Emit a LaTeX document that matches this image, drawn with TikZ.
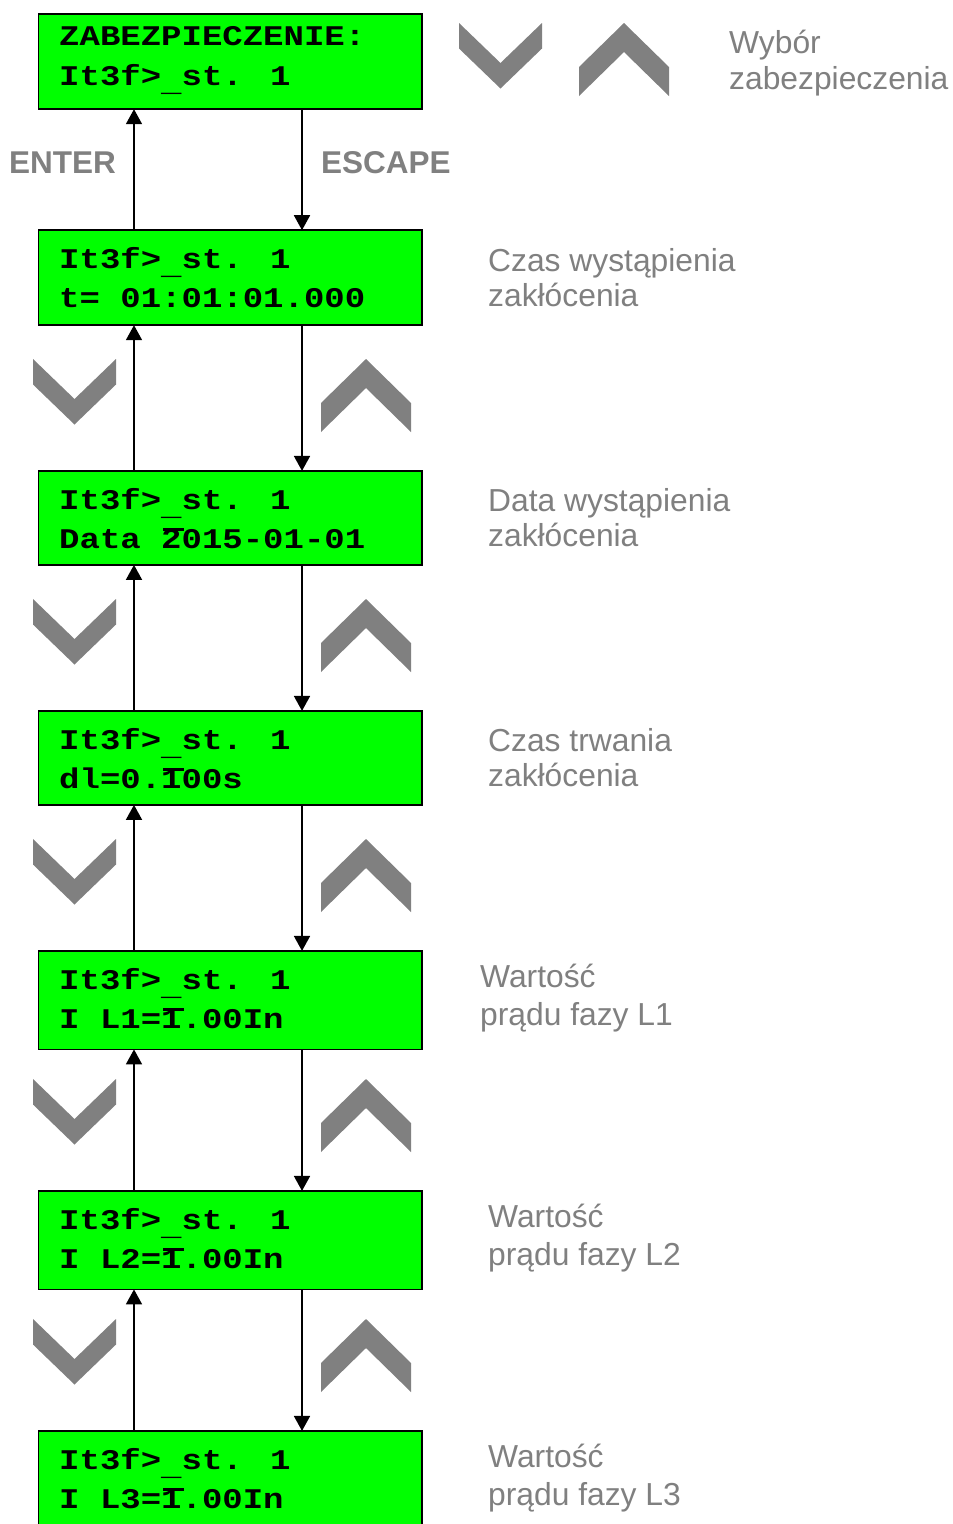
\documentclass[tikz,border=0pt]{standalone}
\usepackage{fontspec}
\setmainfont{Liberation Sans}
\newfontfamily\lcdfont{Liberation Mono}[FakeStretch=1.193]
\usetikzlibrary{arrows.meta}
\definecolor{lcdgreen}{RGB}{0,255,0}
\definecolor{keygray}{RGB}{128,128,128}
\newcommand\lowbar{\raisebox{-6pt}{\_}}
\begin{document}
\begin{tikzpicture}[x=1pt,y=-1pt,
  lcd/.style={draw=black, line width=1.8pt, fill=lcdgreen, rectangle, anchor=north west,
    outer sep=0pt, inner sep=0pt, minimum width=383.5pt},
  lcdtxt/.style={anchor=base west, inner sep=0pt, font=\lcdfont\bfseries\fontsize{28.5}{40}\selectfont},
  note/.style={anchor=base west, inner sep=0pt, text=keygray, font=\fontsize{31.8}{36}\selectfont},
  keylbl/.style={anchor=base west, inner sep=0pt, text=keygray, font=\bfseries\fontsize{31.5}{36}\selectfont},
  nav/.style={line width=1.8pt, -{Triangle[length=15pt,width=16pt]}},
  cursorbar/.style={fill=black},
  chevdn/.pic={\fill[keygray] (0,0) -- (41.5,40) -- (83,0) -- (83,25.5) -- (41.5,65.5) -- (0,25.5) -- cycle;},
  chevup/.pic={\fill[keygray] (0,44) -- (45,0) -- (90,44) -- (90,73) -- (45,29) -- (0,73) -- cycle;},
]
\clip (0,0) rectangle (953,1524);
\fill[white] (0,0) rectangle (953,1524);

% LCD boxes
\node[lcd, minimum height=95pt]   (b1) at (38.5,14.2)   {};
\node[lcd, minimum height=95pt]   (b2) at (38.5,230.2)  {};
\node[lcd, minimum height=94pt]   (b3) at (38.5,470.9)  {};
\node[lcd, minimum height=94pt]   (b4) at (38.5,710.9)  {};
\node[lcd, minimum height=98.5pt] (b5) at (38.5,950.9)  {};
\node[lcd, minimum height=98.5pt] (b6) at (38.5,1190.9) {};
\node[lcd, minimum height=98.5pt] (b7) at (38.5,1430.9) {};

% LCD texts
\node[lcdtxt] (t1a) at (59,45)   {ZABEZPIECZENIE:};
\node[lcdtxt] (t1b) at (59,85)   {It3f>\lowbar st. 1};
\node[lcdtxt] (t2a) at (59,268)  {It3f>\lowbar st. 1};
\node[lcdtxt] (t2b) at (59,307)  {t= 01:01:01.000};
\node[lcdtxt] (t3a) at (59,509)  {It3f>\lowbar st. 1};
\node[lcdtxt] (t3b) at (59,548)  {Data 2015-01-01};
\node[lcdtxt] (t4a) at (59,749)  {It3f>\lowbar st. 1};
\node[lcdtxt] (t4b) at (59,788)  {dl=0.100s};
\node[lcdtxt] (t5a) at (59,989)  {It3f>\lowbar st. 1};
\node[lcdtxt] (t5b) at (59,1028) {I L1=1.00In};
\node[lcdtxt] (t6a) at (59,1229) {It3f>\lowbar st. 1};
\node[lcdtxt] (t6b) at (59,1268) {I L2=1.00In};
\node[lcdtxt] (t7a) at (59,1469) {It3f>\lowbar st. 1};
\node[lcdtxt] (t7b) at (59,1508) {I L3=1.00In};

% cursor bars on second lines
\foreach \yy in {527.5,767.5,1007.5,1247.5,1487.5}
  \fill[cursorbar] (163,\yy) rectangle (184,\yy+3);

% connectors
\foreach \up/\dn in {b1/b2,b2/b3,b3/b4,b4/b5,b5/b6,b6/b7}{
  \draw[nav] ([xshift=95.5pt]\dn.north west) -- ([xshift=95.5pt]\up.south west);
  \draw[nav] ([xshift=263.5pt]\up.south west) -- ([xshift=263.5pt]\dn.north west);
}

% key labels
\node[keylbl] (enter)  at (9,173)   {ENTER};
\node[keylbl] (escape) at (321,173) {ESCAPE};

% chevrons
\pic at (459,23) {chevdn};
\pic at (579,23) {chevup};
\foreach \k in {0,...,5}{
  \pic at (33,359+240*\k) {chevdn};
  \pic at (321,359+240*\k) {chevup};
}

% descriptions
\node[note] (d1a) at (729,53)   {Wybór};
\node[note] (d1b) at (729,89)   {zabezpieczenia};
\node[note] (d2a) at (488,271)  {Czas wystąpienia};
\node[note] (d2b) at (488,306)  {zakłócenia};
\node[note] (d3a) at (488,511)  {Data wystąpienia};
\node[note] (d3b) at (488,546)  {zakłócenia};
\node[note] (d4a) at (488,751)  {Czas trwania};
\node[note] (d4b) at (488,786)  {zakłócenia};
\node[note] (d5a) at (480,987)  {Wartość};
\node[note] (d5b) at (480,1025) {prądu fazy L1};
\node[note] (d6a) at (488,1227) {Wartość};
\node[note] (d6b) at (488,1265) {prądu fazy L2};
\node[note] (d7a) at (488,1467) {Wartość};
\node[note] (d7b) at (488,1505) {prądu fazy L3};
\end{tikzpicture}
\end{document}
